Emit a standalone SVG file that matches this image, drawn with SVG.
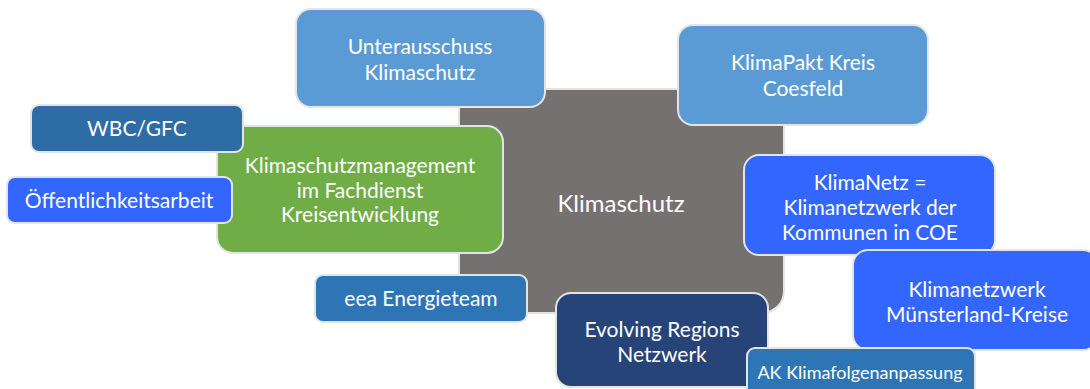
<svg xmlns="http://www.w3.org/2000/svg" width="1090" height="389" viewBox="0 0 1090 389">
<style>
.b{stroke:#e4e4e4;stroke-width:2}
.t{font-family:Lato,"Open Sans","Liberation Sans",sans-serif;font-size:21px;fill:#ffffff;text-anchor:middle}
</style>
<rect width="1090" height="389" fill="#ffffff"/>
<g id="connectors"/>
<g id="center">
<rect class="b" x="459" y="89" width="325" height="224" rx="22" fill="#767171"/>
<text class="t" x="621" y="212" style="font-size:24px">Klimaschutz</text>
</g>
<g id="unterausschuss">
<rect class="b" x="296" y="9" width="249" height="98" rx="15" fill="#5B9BD5"/>
<text class="t" x="420" y="54">Unterausschuss</text>
<text class="t" x="420" y="80">Klimaschutz</text>
</g>
<g id="klimapakt">
<rect class="b" x="678" y="25" width="250" height="100" rx="15" fill="#5B9BD5"/>
<text class="t" x="803" y="70">KlimaPakt Kreis</text>
<text class="t" x="803" y="96">Coesfeld</text>
</g>
<g id="klimaschutzmanagement">
<rect class="b" x="217" y="126" width="286" height="127" rx="16" fill="#70AD47"/>
<text class="t" x="360" y="173">Klimaschutzmanagement</text>
<text class="t" x="360" y="198">im Fachdienst</text>
<text class="t" x="360" y="222">Kreisentwicklung</text>
</g>
<g id="wbc">
<rect class="b" x="31" y="105" width="212" height="47" rx="8" fill="#2E6CA6"/>
<text class="t" x="137" y="136">WBC/GFC</text>
</g>
<g id="oeffentlichkeitsarbeit">
<rect class="b" x="7" y="177" width="225" height="46" rx="8" fill="#3366FF"/>
<text class="t" x="119" y="208">Öffentlichkeitsarbeit</text>
</g>
<g id="klimanetz">
<rect class="b" x="744" y="155" width="251" height="100" rx="15" fill="#3366FF"/>
<text class="t" x="870" y="190">KlimaNetz =</text>
<text class="t" x="870" y="215">Klimanetzwerk der</text>
<text class="t" x="870" y="240">Kommunen in COE</text>
</g>
<g id="muensterland">
<rect class="b" x="853" y="250" width="245" height="100" rx="15" fill="#3366FF"/>
<text class="t" x="977" y="297">Klimanetzwerk</text>
<text class="t" x="977" y="322">Münsterland-Kreise</text>
</g>
<g id="eea">
<rect class="b" x="315" y="275" width="212" height="47" rx="8" fill="#2E75B6"/>
<text class="t" x="421" y="306">eea Energieteam</text>
</g>
<g id="evolving">
<rect class="b" x="556" y="293" width="212" height="94" rx="15" fill="#264478"/>
<text class="t" x="662" y="337">Evolving Regions</text>
<text class="t" x="662" y="362">Netzwerk</text>
</g>
<g id="ak">
<rect class="b" x="747" y="348" width="228" height="50" rx="8" fill="#2E75B6"/>
<text class="t" x="860" y="379" style="font-size:18px">AK Klimafolgenanpassung</text>
</g>
</svg>
